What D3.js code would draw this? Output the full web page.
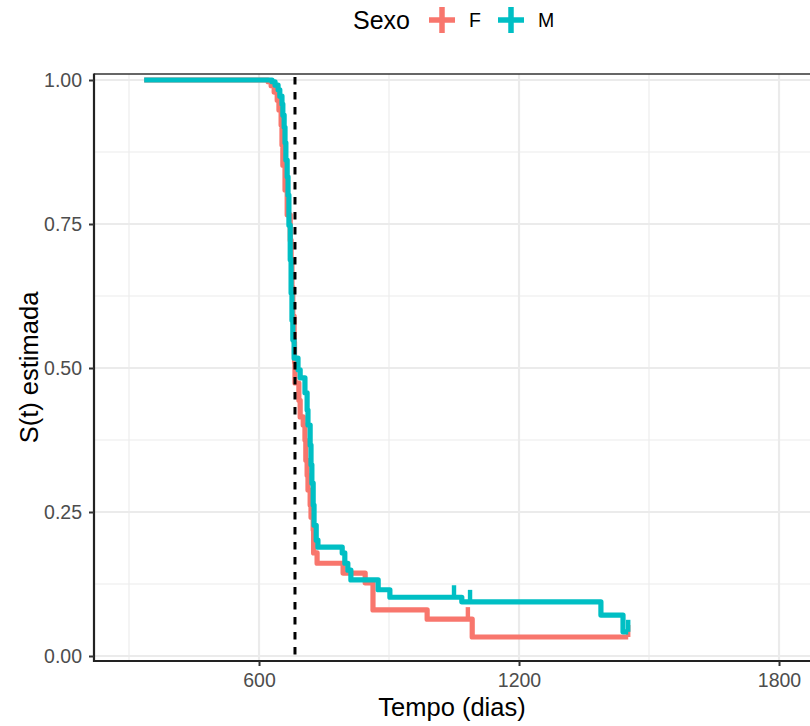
<!DOCTYPE html>
<html>
<head>
<meta charset="utf-8">
<script src="https://cdn.jsdelivr.net/npm/d3@7"></script>
<style>
  html, body { margin: 0; padding: 0; background: #fff; }
  svg { display: block; font-family: "Liberation Sans", Arial, Helvetica, sans-serif; }
</style>
</head>
<body>
<svg id="chart" width="810" height="726"></svg>
<script>
// Kaplan-Meier estimates by sex (time in days, estimated survival)
const grupos = ["F", "M"];
const cores = ["#F8766D", "#00BFC4"];

const tempoF = [335, 621, 628, 635, 642, 646, 651, 653, 655, 660, 665, 672, 674, 676, 678, 681, 682, 683,
  692, 695, 702, 706, 708, 711, 713, 718, 720, 725, 726, 734, 794, 845, 863, 988, 1092, 1452];
const survF = [1, 0.997, 0.990, 0.979, 0.965, 0.948, 0.922, 0.887, 0.852, 0.809, 0.766, 0.722, 0.688, 0.640,
  0.590, 0.545, 0.510, 0.474, 0.444, 0.415, 0.401, 0.375, 0.340, 0.314, 0.288, 0.262, 0.241, 0.219, 0.179,
  0.161, 0.144, 0.127, 0.080, 0.064, 0.033, 0.033];

const tempoM = [335, 630, 637, 644, 648, 653, 655, 658, 660, 662, 665, 667, 669, 672, 674, 676, 678, 681,
  690, 695, 706, 711, 713, 718, 720, 722, 725, 727, 732, 736, 792, 798, 805, 812, 875, 902, 1068, 1389, 1440, 1452];
const survM = [1, 0.997, 0.991, 0.983, 0.972, 0.958, 0.939, 0.918, 0.891, 0.861, 0.832, 0.800, 0.748, 0.688,
  0.630, 0.583, 0.549, 0.517, 0.497, 0.483, 0.457, 0.427, 0.401, 0.366, 0.332, 0.300, 0.262, 0.227, 0.201,
  0.189, 0.179, 0.161, 0.149, 0.132, 0.115, 0.102, 0.094, 0.071, 0.042, 0.042];

// censored observations (time in days)
const censuraF = [1082, 1452];
const censuraM = [1050, 1087, 1452];

// reference line (days)
const linhaRef = 683;

const xTicks = [600, 1200, 1800];
const xMinor = [300, 900, 1500];
const yTicks = [0, 0.25, 0.5, 0.75, 1];
const yMinor = [0.125, 0.375, 0.625, 0.875];
const yTickLabels = ["0.00", "0.25", "0.50", "0.75", "1.00"];

const tituloX = "Tempo (dias)";
const tituloY = "S(t) estimada";
const tituloLegenda = "Sexo";

// ---- layout ----
const svg = d3.select("#chart");
const panel = { left: 94, right: 810, top: 74, bottom: 661 };

const x = d3.scaleLinear().domain([219.2, 1871.5]).range([panel.left, panel.right]);
const y = d3.scaleLinear().domain([-5 / 576, 1 + 6 / 576]).range([panel.bottom, panel.top]);

svg.append("defs").append("clipPath").attr("id", "clip")
  .append("rect")
  .attr("x", panel.left).attr("y", panel.top)
  .attr("width", panel.right - panel.left).attr("height", panel.bottom - panel.top);

// grid
const grid = svg.append("g").attr("clip-path", "url(#clip)");
grid.selectAll(".gx-minor").data(xMinor).join("line")
  .attr("x1", d => x(d)).attr("x2", d => x(d))
  .attr("y1", panel.top).attr("y2", panel.bottom)
  .attr("stroke", "#EBEBEB").attr("stroke-width", 1.1);
grid.selectAll(".gy-minor").data(yMinor).join("line")
  .attr("y1", d => y(d)).attr("y2", d => y(d))
  .attr("x1", panel.left).attr("x2", panel.right)
  .attr("stroke", "#EBEBEB").attr("stroke-width", 1.1);
grid.selectAll(".gx-major").data(xTicks).join("line")
  .attr("x1", d => x(d)).attr("x2", d => x(d))
  .attr("y1", panel.top).attr("y2", panel.bottom)
  .attr("stroke", "#EBEBEB").attr("stroke-width", 2.2);
grid.selectAll(".gy-major").data(yTicks).join("line")
  .attr("y1", d => y(d)).attr("y2", d => y(d))
  .attr("x1", panel.left).attr("x2", panel.right)
  .attr("stroke", "#EBEBEB").attr("stroke-width", 2.2);

// curves
const plot = svg.append("g").attr("clip-path", "url(#clip)");
const degrau = d3.line().x(d => x(d[0])).y(d => y(d[1])).curve(d3.curveStepAfter);

const series = [
  { nome: "F", tempo: tempoF, surv: survF, censura: censuraF, cor: cores[0] },
  { nome: "M", tempo: tempoM, surv: survM, censura: censuraM, cor: cores[1] }
];

function survEm(s, t) {
  const i = d3.bisectRight(s.tempo, t) - 1;
  return s.surv[Math.max(0, i)];
}

series.forEach(s => {
  const pts = s.tempo.map((t, i) => [t, s.surv[i]]);
  plot.append("path")
    .attr("d", degrau(pts))
    .attr("fill", "none")
    .attr("stroke", s.cor)
    .attr("stroke-width", 5.2)
    .attr("stroke-linejoin", "round")
    .attr("stroke-linecap", "butt");
  plot.selectAll(null).data(s.censura).join("line")
    .attr("x1", d => x(d)).attr("x2", d => x(d))
    .attr("y1", d => y(survEm(s, d)))
    .attr("y2", d => y(survEm(s, d)) - 12)
    .attr("stroke", s.cor)
    .attr("stroke-width", 4.4);
});

// dashed reference line
plot.append("line")
  .attr("x1", x(linhaRef)).attr("x2", x(linhaRef))
  .attr("y1", panel.top).attr("y2", panel.bottom)
  .attr("stroke", "#000")
  .attr("stroke-width", 3)
  .attr("stroke-dasharray", "7.5,7.5")
  .attr("stroke-dashoffset", 12);

// panel frame
svg.append("line")
  .attr("x1", panel.left).attr("x2", panel.right)
  .attr("y1", panel.top).attr("y2", panel.top)
  .attr("stroke", "#333").attr("stroke-width", 1.3);
svg.append("line")
  .attr("x1", panel.left).attr("x2", panel.left)
  .attr("y1", panel.top - 0.6).attr("y2", panel.bottom + 1)
  .attr("stroke", "#222").attr("stroke-width", 2.2);
svg.append("line")
  .attr("x1", panel.left - 1).attr("x2", panel.right)
  .attr("y1", panel.bottom).attr("y2", panel.bottom)
  .attr("stroke", "#222").attr("stroke-width", 2.2);

// axes
const yAxis = d3.axisLeft(y).tickValues(yTicks)
  .tickFormat((d, i) => yTickLabels[i]).tickSize(5).tickPadding(7);
const gy = svg.append("g").attr("transform", `translate(${panel.left},0)`).call(yAxis);
const xAxis = d3.axisBottom(x).tickValues(xTicks).tickFormat(d3.format("d")).tickSize(5).tickPadding(7);
const gx = svg.append("g").attr("transform", `translate(0,${panel.bottom})`).call(xAxis);
[gx, gy].forEach(g => {
  g.select(".domain").remove();
  g.selectAll(".tick line").attr("stroke", "#333").attr("stroke-width", 2);
  g.selectAll(".tick text").attr("fill", "#4D4D4D")
    .style("font-size", "19.5px")
    .style("font-family", "'Liberation Sans', Arial, Helvetica, sans-serif");
});

// axis titles
svg.append("text")
  .attr("x", (panel.left + panel.right) / 2).attr("y", 716)
  .attr("text-anchor", "middle")
  .style("font-size", "25.5px").attr("fill", "#000")
  .text(tituloX);
svg.append("text")
  .attr("transform", `translate(38,${(panel.top + panel.bottom) / 2}) rotate(-90)`)
  .attr("text-anchor", "middle")
  .style("font-size", "25.5px").attr("fill", "#000")
  .text(tituloY);

// legend
const leg = svg.append("g");
leg.append("text").attr("x", 353).attr("y", 29)
  .style("font-size", "25px").attr("fill", "#000").text(tituloLegenda);
const chaveX = [442, 511];
const rotuloX = [469, 538];
grupos.forEach((g, i) => {
  const cx = chaveX[i], cy = 20;
  leg.append("line").attr("x1", cx - 13).attr("x2", cx + 13).attr("y1", cy).attr("y2", cy)
    .attr("stroke", cores[i]).attr("stroke-width", 5.5);
  leg.append("line").attr("x1", cx).attr("x2", cx).attr("y1", cy - 13).attr("y2", cy + 13)
    .attr("stroke", cores[i]).attr("stroke-width", 5.5);
  leg.append("text").attr("x", rotuloX[i]).attr("y", 27)
    .style("font-size", "19.5px").attr("fill", "#000").text(g);
});
</script>
</body>
</html>
